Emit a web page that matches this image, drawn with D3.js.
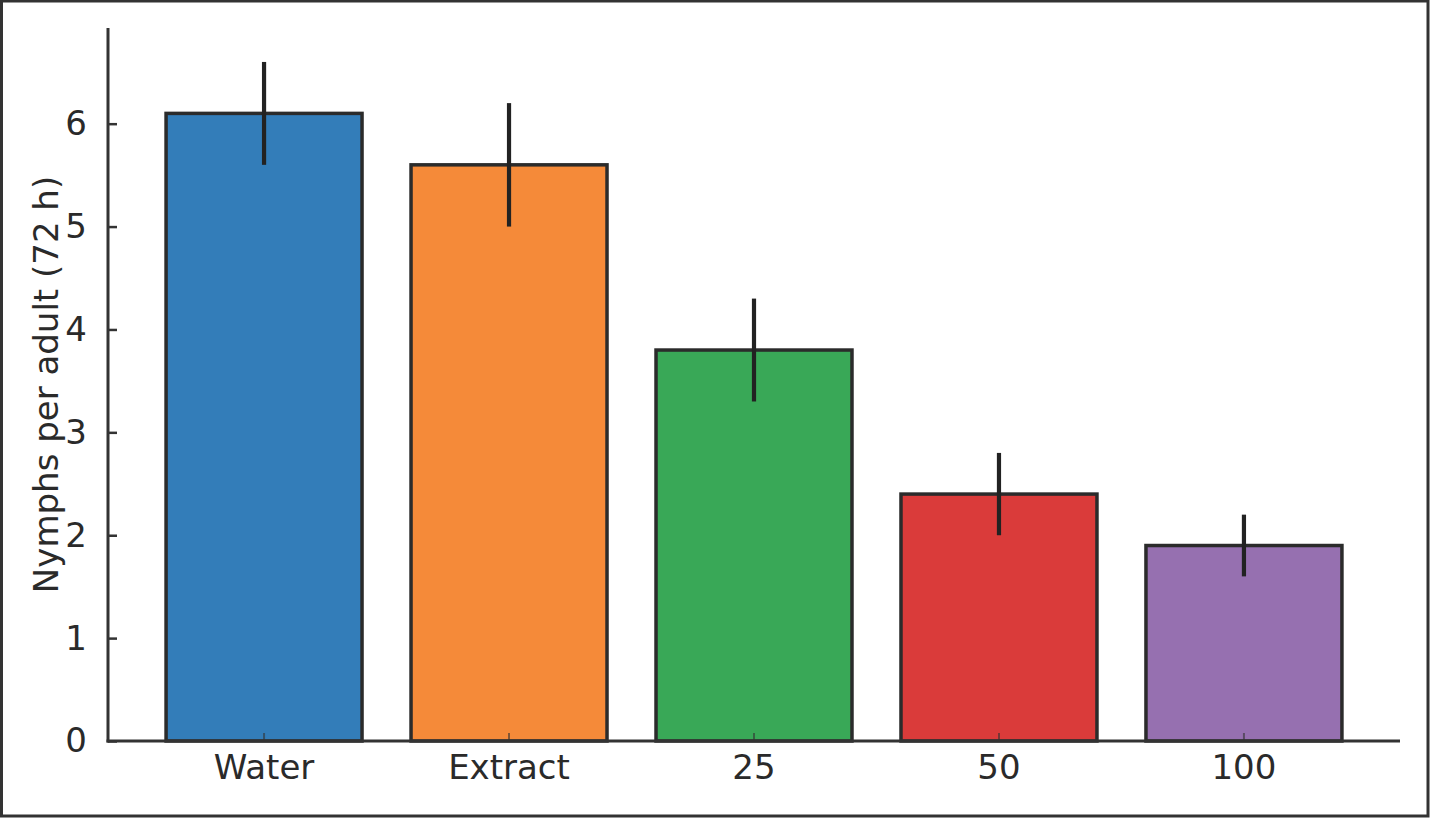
<!DOCTYPE html>
<html>
<head>
<meta charset="utf-8">
<script src="https://cdn.jsdelivr.net/npm/d3@7"></script>
<style>
  html, body { margin: 0; padding: 0; background: #fff; }
  svg { display: block; }
  text { font-family: "DejaVu Sans", sans-serif; fill: #2a2a2a; }
</style>
</head>
<body>
<svg id="chart" width="1430" height="818"></svg>
<script>
const categories = ["Water", "Extract", "25", "50", "100"];
const means = [6.1, 5.6, 3.8, 2.4, 1.9];
const errLow = [5.6, 5.0, 3.3, 2.0, 1.6];
const errHigh = [6.6, 6.2, 4.3, 2.8, 2.2];
const colors = ["#337db9", "#f58a39", "#39a857", "#da3b3a", "#9670b0"];
const yTicks = [0, 1, 2, 3, 4, 5, 6];
const yLabel = "Nymphs per adult (72 h)";

(function () {
const W = 1430, H = 818;
const mLeft = 108, mRight = 1400, mTop = 28, mBottom = 741;
const fs = 34;
const svg = d3.select("#chart");

// frame
svg.append("rect").attr("x", 1.5).attr("y", 1).attr("width", W - 3.5).attr("height", H - 3)
  .attr("fill", "#fff").attr("stroke", "#333").attr("stroke-width", 3);

const x = d3.scaleBand().domain(categories).range([mLeft, mRight])
  .paddingInner(0.2).paddingOuter(0.237);
const y = d3.scaleLinear().domain([0, 6.93]).range([mBottom, mTop]);

const data = categories.map((c, i) => ({c, m: means[i], lo: errLow[i], hi: errHigh[i], col: colors[i]}));
const cx = d => x(d.c) + x.bandwidth() / 2;

// bars
svg.append("g").selectAll("rect").data(data).join("rect")
  .attr("x", d => x(d.c)).attr("width", x.bandwidth())
  .attr("y", d => y(d.m)).attr("height", d => y(0) - y(d.m))
  .attr("fill", d => d.col).attr("stroke", "#2b2b2b").attr("stroke-width", 3.5);

// x ticks (inward)
svg.append("g").selectAll("line").data(data).join("line")
  .attr("x1", cx).attr("x2", cx)
  .attr("y1", mBottom).attr("y2", mBottom - 8)
  .attr("stroke", "#333").attr("stroke-width", 2).attr("opacity", 0.6);

// error bars
svg.append("g").selectAll("line").data(data).join("line")
  .attr("x1", cx).attr("x2", cx)
  .attr("y1", d => y(d.lo)).attr("y2", d => y(d.hi))
  .attr("stroke", "#222").attr("stroke-width", 4.2);

// y axis
const yAxis = svg.append("g").attr("transform", `translate(${mLeft},0)`)
  .call(d3.axisLeft(y).tickValues(yTicks).tickSizeInner(-9).tickSizeOuter(0).tickPadding(21).tickFormat(d3.format("d")));
yAxis.select(".domain").remove();
yAxis.selectAll(".tick line").attr("stroke", "#333").attr("stroke-width", 2.5);
yAxis.selectAll(".tick text").attr("font-size", fs).attr("font-family", "DejaVu Sans").attr("fill", "#2a2a2a");

// x labels
svg.append("g").selectAll("text").data(data).join("text")
  .attr("x", cx).attr("y", 779)
  .attr("text-anchor", "middle").attr("font-size", fs).text(d => d.c);

// spines
svg.append("line").attr("x1", mLeft).attr("x2", mLeft).attr("y1", mTop).attr("y2", mBottom + 1.5)
  .attr("stroke", "#333").attr("stroke-width", 3);
svg.append("line").attr("x1", mLeft - 1.5).attr("x2", mRight).attr("y1", mBottom).attr("y2", mBottom)
  .attr("stroke", "#333").attr("stroke-width", 3);

// y label
svg.append("text").attr("transform", `translate(58,${(mTop + mBottom) / 2}) rotate(-90)`)
  .attr("text-anchor", "middle").attr("font-size", fs).text(yLabel);
})();
</script>
</body>
</html>
